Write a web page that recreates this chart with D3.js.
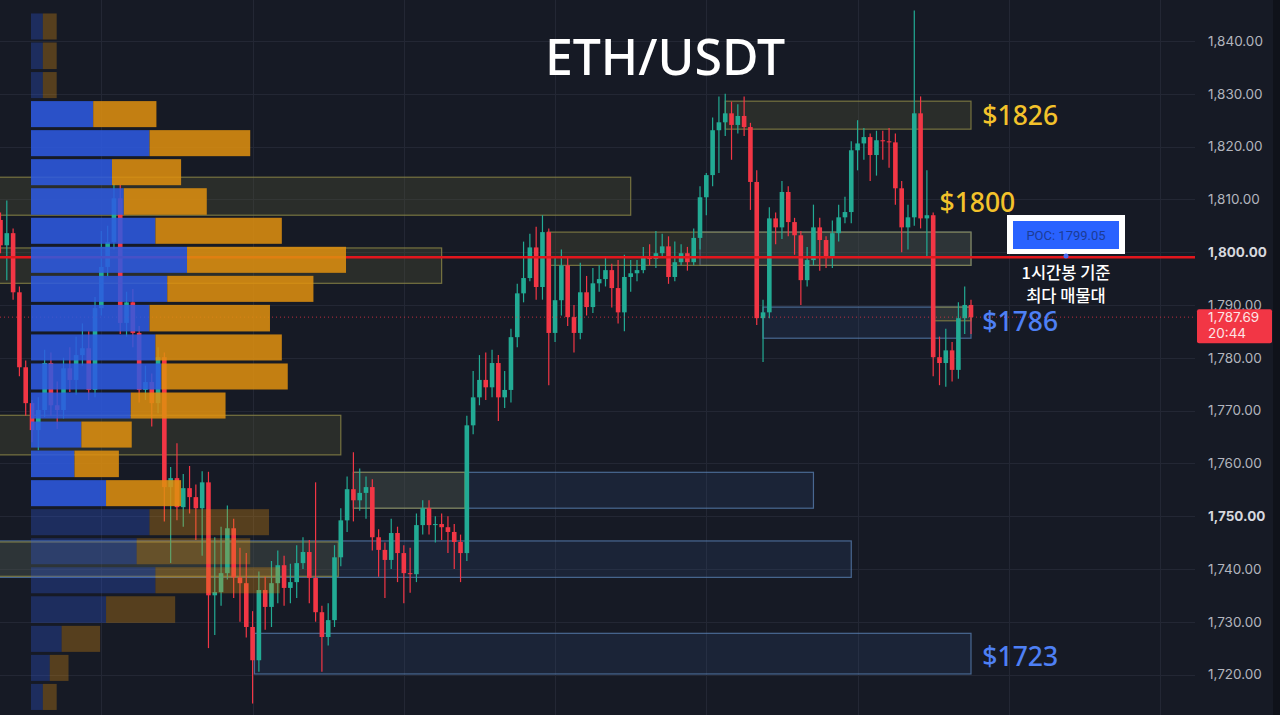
<!DOCTYPE html>
<html>
<head>
<meta charset="utf-8">
<script src="https://cdn.jsdelivr.net/npm/d3@7"></script>
<style>
  html, body { margin: 0; padding: 0; background: #161a25; overflow: hidden; }
</style>
</head>
<body>
<div id="chart"></div>
<script>
// ---- data (ETH/USDT 1h) ----
const firstOpen = 1806.1;
const closes = [
  1801.3, 1803.6, 1792.4, 1778.2, 1771.4, 1766.3, 1770.1, 1779.0, 1771.0, 1770.1,
  1778.0, 1775.8, 1780.5, 1781.8, 1773.9, 1789.4, 1797.2, 1801.9, 1810.2, 1786.6,
  1790.5, 1784.7, 1773.9, 1775.4, 1771.4, 1780.1, 1755.5, 1757.2, 1751.7, 1755.3,
  1753.6, 1751.5, 1756.4, 1735.0, 1735.6, 1739.2, 1747.7, 1738.4, 1737.3, 1729.0,
  1722.7, 1736.0, 1732.8, 1737.3, 1740.7, 1736.4, 1737.5, 1741.1, 1743.2, 1738.3,
  1731.8, 1727.1, 1730.3, 1742.2, 1749.2, 1755.1, 1753.0, 1754.4, 1755.5, 1746.0,
  1743.6, 1741.7, 1746.8, 1743.0, 1739.2, 1739.0, 1748.3, 1751.5, 1748.3, 1748.5,
  1747.9, 1747.0, 1745.1, 1743.0, 1767.2, 1772.5, 1775.8, 1774.4, 1779.0, 1772.5,
  1773.9, 1783.9, 1792.2, 1795.1, 1800.9, 1793.4, 1803.8, 1784.7, 1790.9, 1797.5,
  1787.7, 1784.7, 1792.4, 1789.6, 1794.1, 1794.9, 1796.6, 1793.2, 1788.6, 1795.3,
  1796.0, 1796.6, 1799.1, 1798.7, 1799.8, 1801.1, 1795.3, 1798.1, 1799.8, 1798.1,
  1802.7, 1810.4, 1814.6, 1823.1, 1824.6, 1826.3, 1824.1, 1825.8, 1823.7, 1813.3,
  1787.5, 1788.6, 1806.4, 1804.7, 1811.4, 1805.7, 1803.2, 1794.7, 1798.5, 1804.7,
  1802.3, 1799.1, 1803.6, 1806.6, 1807.6, 1819.3, 1820.6, 1821.8, 1818.4, 1821.2,
  1821.0, 1820.8, 1812.1, 1804.7, 1806.6, 1826.3, 1806.4, 1807.0, 1780.1, 1779.0,
  1781.4, 1777.7, 1787.5, 1790.0, 1787.69
];
const highs = [
  1807.5, 1809.8, 1804.5, 1793.5, 1779.5, 1772.0, 1772.5, 1781.5, 1781.0, 1775.5,
  1780.0, 1782.0, 1784.0, 1786.5, 1785.0, 1791.5, 1804.0, 1805.0, 1813.0, 1812.7,
  1792.5, 1793.0, 1786.0, 1778.5, 1777.0, 1782.0, 1781.0, 1759.3, 1763.8, 1758.0,
  1759.5, 1756.0, 1758.5, 1758.4, 1746.0, 1748.0, 1752.0, 1749.5, 1744.0, 1743.0,
  1732.0, 1739.5, 1738.5, 1741.5, 1743.5, 1742.5, 1741.0, 1744.5, 1746.0, 1745.5,
  1756.4, 1733.0, 1733.5, 1744.5, 1751.5, 1757.5, 1762.1, 1759.0, 1757.5, 1757.0,
  1747.5, 1745.0, 1749.5, 1748.0, 1744.5, 1744.0, 1750.5, 1753.0, 1753.0, 1750.0,
  1750.5, 1750.0, 1748.5, 1746.5, 1769.0, 1777.5, 1780.5, 1781.0, 1781.5, 1780.5,
  1777.5, 1785.5, 1794.0, 1802.0, 1803.5, 1804.8, 1807.0, 1804.5, 1799.0, 1800.5,
  1799.0, 1790.0, 1798.0, 1795.5, 1797.0, 1797.5, 1799.0, 1797.8, 1798.5, 1799.5,
  1798.5, 1798.5, 1801.0, 1801.5, 1804.0, 1803.5, 1803.0, 1802.0, 1801.5, 1801.0,
  1804.5, 1812.5, 1815.0, 1825.5, 1829.5, 1830.0, 1828.5, 1828.0, 1829.5, 1824.5,
  1815.5, 1791.0, 1808.5, 1807.5, 1813.5, 1812.5, 1806.5, 1804.0, 1801.0, 1809.0,
  1806.5, 1803.0, 1806.0, 1809.0, 1810.5, 1821.0, 1825.0, 1823.5, 1822.5, 1823.0,
  1823.0, 1823.5, 1822.5, 1813.5, 1809.0, 1845.8, 1829.5, 1815.5, 1807.5, 1784.0,
  1785.5, 1783.0, 1790.5, 1793.5, 1791.0
];
const lows = [
  1799.8, 1794.7, 1791.0, 1776.5, 1769.0, 1764.0, 1762.5, 1768.8, 1769.0, 1766.5,
  1768.5, 1773.5, 1773.0, 1778.5, 1772.0, 1772.5, 1788.0, 1795.5, 1800.5, 1784.5,
  1784.0, 1782.0, 1771.5, 1772.0, 1767.0, 1769.5, 1749.0, 1741.1, 1749.2, 1748.0,
  1750.5, 1745.5, 1742.5, 1725.0, 1727.5, 1733.0, 1738.0, 1734.5, 1730.0, 1727.0,
  1714.5, 1720.5, 1728.5, 1729.0, 1733.5, 1733.0, 1733.5, 1734.5, 1740.0, 1733.5,
  1730.0, 1720.5, 1725.5, 1729.0, 1740.5, 1747.0, 1749.0, 1751.0, 1749.5, 1743.5,
  1738.5, 1734.5, 1740.0, 1737.5, 1733.5, 1735.5, 1737.5, 1746.5, 1746.5, 1745.0,
  1745.5, 1743.0, 1740.0, 1737.5, 1741.5, 1765.5, 1771.0, 1772.0, 1772.5, 1768.0,
  1770.5, 1771.5, 1782.0, 1790.5, 1794.5, 1791.0, 1791.0, 1774.8, 1783.0, 1788.0,
  1786.0, 1781.0, 1783.5, 1788.0, 1788.5, 1792.5, 1793.5, 1789.5, 1786.5, 1785.0,
  1792.5, 1794.5, 1796.0, 1797.5, 1797.0, 1799.0, 1794.0, 1794.5, 1797.5, 1796.5,
  1797.5, 1800.5, 1807.0, 1812.5, 1815.0, 1822.0, 1817.5, 1822.5, 1822.0, 1808.0,
  1786.2, 1779.2, 1787.5, 1801.5, 1802.5, 1803.0, 1799.5, 1790.0, 1793.5, 1797.5,
  1796.5, 1797.0, 1797.0, 1802.0, 1805.5, 1805.5, 1815.5, 1817.5, 1813.5, 1814.5,
  1817.5, 1816.0, 1809.0, 1800.0, 1800.5, 1805.0, 1804.5, 1799.0, 1776.5, 1774.8,
  1774.5, 1775.5, 1776.0, 1784.5, 1784.5
];

// volume profile (rows from top price edge to bottom), buy / sell volume
const profileEdges = [1845.5, 1840.0, 1834.4, 1828.9, 1823.4, 1817.9, 1812.4, 1806.8, 1801.3, 1795.8,
  1790.3, 1784.7, 1779.2, 1773.7, 1768.2, 1762.7, 1757.1, 1751.6, 1746.1, 1740.6,
  1735.1, 1729.5, 1724.0, 1718.5, 1713.0];
const buyVol = [12, 12, 12, 63, 120, 82, 94, 126, 158, 138, 120, 126, 132, 101, 51, 44, 76, 120, 107, 126, 76, 31, 19, 12];
const sellVol = [14, 14, 14, 64, 102, 70, 84, 128, 161, 148, 122, 128, 128, 96, 51, 45, 76, 121, 115, 126, 70, 39, 19, 14];
const valueAreaHigh = 1828.9;
const valueAreaLow = 1751.6;
const pocPrice = 1799.05;
const lastPrice = 1787.69;

// supply / demand zones: [fromBar, toBar, top, bottom]
const yellowZones = [
  [-5, 100, 1814.2, 1807.0],
  [-5, 70, 1800.8, 1794.1],
  [86.8, 154, 1803.8, 1797.5],
  [115, 154, 1828.6, 1823.3],
  [-5, 54, 1769.1, 1761.6],
  [56, 73.7, 1758.3, 1751.5],
  [-5, 53.6, 1745.1, 1738.6],
  [148, 154, 1789.6, 1787.0]
];
const blueZones = [
  [111, 154, 1803.8, 1797.5],
  [56, 129, 1758.3, 1751.5],
  [-5, 135, 1745.3, 1738.4],
  [40.3, 154, 1727.8, 1720.1],
  [121, 154, 1789.6, 1783.7]
];

const priceTicks = [1720, 1730, 1740, 1750, 1760, 1770, 1780, 1790, 1800, 1810, 1820, 1830, 1840];
const boldTicks = [1750, 1800];
const dayBars = [16, 40, 64, 88, 112, 136, 160, 184];
const levelLabels = ["$1826", "$1800", "$1786", "$1723"];

// ---- chart ----
const width = 1280, height = 715;
const plotRight = 1195;

const svg = d3.select("#chart").append("svg")
  .attr("width", width)
  .attr("height", height)
  .style("display", "block");

svg.append("rect").attr("width", width).attr("height", height).attr("fill", "#161a25");
svg.append("rect").attr("x", 1273).attr("width", 7).attr("height", height).attr("fill", "#0f121a");

const x = d3.scaleLinear().domain([0, 154]).range([0.5, 971]);
const y = d3.scaleLinear().domain([1720, 1840]).range([674.5, 41]);

// grid
const grid = svg.append("g");
grid.selectAll(".hg").data(priceTicks).enter().append("line")
  .attr("x1", 0).attr("x2", plotRight)
  .attr("y1", d => Math.round(y(d)) + 0.5).attr("y2", d => Math.round(y(d)) + 0.5)
  .attr("stroke", "#232734").attr("stroke-width", 1);
grid.selectAll(".vg").data(dayBars).enter().append("line")
  .attr("x1", d => Math.round(x(d)) + 0.5).attr("x2", d => Math.round(x(d)) + 0.5)
  .attr("y1", 0).attr("y2", height)
  .attr("stroke", "#232734").attr("stroke-width", 1);

// zones
function drawZones(list, fill, stroke) {
  svg.append("g").selectAll("rect").data(list).enter().append("rect")
    .attr("x", d => x(d[0]))
    .attr("y", d => y(d[2]))
    .attr("width", d => x(d[1]) - x(d[0]))
    .attr("height", d => y(d[3]) - y(d[2]))
    .attr("fill", fill)
    .attr("stroke", stroke)
    .attr("stroke-width", 1.2);
}
drawZones(blueZones, "rgba(55,95,150,0.16)", "rgba(90,130,180,0.75)");
drawZones(yellowZones, "rgba(90,88,55,0.30)", "rgba(140,135,70,0.8)");

// candles
const candles = closes.map((c, i) => ({
  i: i,
  o: i === 0 ? firstOpen : closes[i - 1],
  c: c,
  h: highs[i],
  l: lows[i]
}));
const up = "#22ab94", down = "#f23645";
const cg = svg.append("g");
cg.selectAll(".wick").data(candles).enter().append("line")
  .attr("x1", d => x(d.i)).attr("x2", d => x(d.i))
  .attr("y1", d => y(d.h)).attr("y2", d => y(d.l))
  .attr("stroke", d => d.c >= d.o ? up : down)
  .attr("stroke-width", 1.2);
cg.selectAll(".body").data(candles).enter().append("rect")
  .attr("x", d => x(d.i) - 2.3)
  .attr("width", 4.6)
  .attr("y", d => y(Math.max(d.o, d.c)))
  .attr("height", d => Math.max(1, Math.abs(y(d.o) - y(d.c))))
  .attr("fill", d => d.c >= d.o ? up : down);

// last price dotted line
svg.append("line")
  .attr("x1", 0).attr("x2", plotRight)
  .attr("y1", y(lastPrice)).attr("y2", y(lastPrice))
  .attr("stroke", "#f23645").attr("stroke-opacity", 0.75)
  .attr("stroke-width", 1).attr("stroke-dasharray", "1,3");

// POC line
svg.append("line")
  .attr("x1", 0).attr("x2", plotRight)
  .attr("y1", y(pocPrice)).attr("y2", y(pocPrice))
  .attr("stroke", "#e3161d").attr("stroke-width", 2.6);

// volume profile
const xv = d3.scaleLinear().domain([0, 320]).range([31, 347]);
const rows = buyVol.map((b, k) => ({
  top: profileEdges[k], bottom: profileEdges[k + 1], buy: b, sell: sellVol[k],
  inVA: profileEdges[k] <= valueAreaHigh + 0.01 && profileEdges[k + 1] >= valueAreaLow - 0.01
}));
const pg = svg.append("g");
pg.selectAll(".pb").data(rows).enter().append("rect")
  .attr("x", xv(0))
  .attr("y", d => y(d.top) + 1.5)
  .attr("width", d => xv(d.buy) - xv(0))
  .attr("height", d => y(d.bottom) - y(d.top) - 3)
  .attr("fill", "#2d5be3")
  .attr("fill-opacity", d => d.inVA ? 0.86 : 0.3);
pg.selectAll(".ps").data(rows).enter().append("rect")
  .attr("x", d => xv(d.buy))
  .attr("y", d => y(d.top) + 1.5)
  .attr("width", d => xv(d.sell) - xv(0))
  .attr("height", d => y(d.bottom) - y(d.top) - 3)
  .attr("fill", "#e0900f")
  .attr("fill-opacity", d => d.inVA ? 0.86 : 0.32);

// title
svg.append("text")
  .attr("x", 665).attr("y", 75)
  .attr("text-anchor", "middle")
  .attr("font-family", "'Noto Sans', 'Open Sans', sans-serif")
  .attr("font-size", 50).attr("font-weight", 500)
  .attr("fill", "#ffffff")
  .text("ETH/USDT");

// level labels
const labelFont = "'Noto Sans', 'Open Sans', sans-serif";
const lblPos = [
  { x: x(155.8), y: y(1826) + 10, color: "#f3c22b" },
  { x: x(149), y: y(1800) - 40, color: "#f3c22b" },
  { x: x(155.8), y: y(1787) + 10, color: "#4e80f5" },
  { x: x(155.8), y: y(1723.5) + 10, color: "#4e80f5" }
];
svg.append("g").selectAll("text").data(levelLabels).enter().append("text")
  .attr("x", (d, i) => lblPos[i].x)
  .attr("y", (d, i) => lblPos[i].y)
  .attr("font-family", labelFont)
  .attr("font-size", 26.5).attr("font-weight", 500)
  .attr("fill", (d, i) => lblPos[i].color)
  .text(d => d);

// POC callout
const pocX = 1066;
const cb = svg.append("g");
cb.append("rect").attr("x", pocX - 59).attr("y", 215).attr("width", 118).attr("height", 39).attr("fill", "#ffffff");
cb.append("rect").attr("x", pocX - 53).attr("y", 221).attr("width", 106).attr("height", 28).attr("fill", "#2962ff");
cb.append("text").attr("x", pocX).attr("y", 240)
  .attr("text-anchor", "middle")
  .attr("font-family", "Roboto, 'Noto Sans', sans-serif")
  .attr("font-size", 13)
  .attr("fill", "#1c3c96")
  .text("POC: " + d3.format(".2f")(pocPrice));
cb.append("circle").attr("cx", pocX).attr("cy", 256).attr("r", 2.5).attr("fill", "#4a6cf0");
cb.append("text").attr("x", pocX).attr("y", 279)
  .attr("text-anchor", "middle")
  .attr("font-family", "'Noto Sans CJK KR', sans-serif")
  .attr("font-size", 16.5).attr("font-weight", 500)
  .attr("fill", "#ffffff")
  .text("1시간봉 기준");
cb.append("text").attr("x", pocX).attr("y", 302)
  .attr("text-anchor", "middle")
  .attr("font-family", "'Noto Sans CJK KR', sans-serif")
  .attr("font-size", 16.5).attr("font-weight", 500)
  .attr("fill", "#ffffff")
  .text("최다 매물대");

// price axis
const yAxis = d3.axisRight(y)
  .tickValues(priceTicks)
  .tickFormat(d3.format(",.2f"))
  .tickSize(0)
  .tickPadding(0);
const ax = svg.append("g")
  .attr("transform", "translate(1208,0)")
  .call(yAxis);
ax.select(".domain").remove();
ax.selectAll("text")
  .attr("font-family", "Inter, Roboto, sans-serif")
  .attr("font-size", 13.5)
  .attr("fill", d => boldTicks.includes(d) ? "#d6d8de" : "#b2b5be")
  .attr("font-weight", d => boldTicks.includes(d) ? 700 : 400);

// last price tag (sits over the 1,790.00 label as in the source chart)
const tagY = y(lastPrice);
const tag = svg.append("g");
tag.append("rect").attr("x", 1197).attr("y", tagY - 8).attr("width", 75).attr("height", 34)
  .attr("rx", 2).attr("fill", "#f23645");
tag.append("text").attr("x", 1208).attr("y", tagY + 5)
  .attr("font-family", "Inter, Roboto, sans-serif").attr("font-size", 13.5)
  .attr("fill", "#fde4e6").text(d3.format(",.2f")(lastPrice));
tag.append("text").attr("x", 1208).attr("y", tagY + 21)
  .attr("font-family", "Inter, Roboto, sans-serif").attr("font-size", 13.5)
  .attr("fill", "#fde4e6").text("20:44");
</script>
</body>
</html>
